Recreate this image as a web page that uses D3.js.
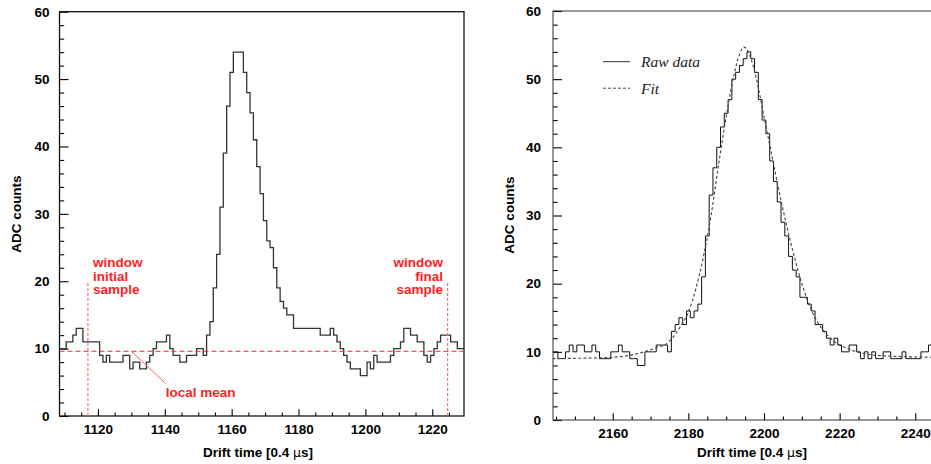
<!DOCTYPE html>
<html>
<head>
<meta charset="utf-8">
<script src="https://cdn.jsdelivr.net/npm/d3@7"></script>
<style>
  body { margin: 0; background: #fff; }
  svg { display: block; font-family: "Liberation Sans", Arial, Helvetica, sans-serif; }
</style>
</head>
<body>
<svg id="chart" width="931" height="464"></svg>
<script>
// ---- Left panel: single pulse with its baseline window ----
const leftFirstBin = 1109;           // centre of the first drift-time bin
const leftCounts = [
  10, 10, 11, 11, 12, 13, 13, 11, 11, 11, 11, 11,   // 1109-1120
   9,  8,  9,  8,  8,  8,  8,  9,  9,  7,  8,  8,   // 1121-1132
   7,  7,  8,  9, 10, 11, 11, 11, 12, 10,  9,  9,   // 1133-1144
   8,  8,  9,  9,  9, 10, 10,  9, 12, 14, 19, 24,   // 1145-1156
  31, 39, 46, 51, 54, 54, 54, 51, 48, 45, 41, 37,   // 1157-1168
  33, 29, 26, 25, 22, 19, 17, 16, 15, 15, 13, 13,   // 1169-1180
  13, 13, 13, 13, 13, 13, 12, 12, 12, 13, 12, 11,   // 1181-1192
  10,  9,  8,  7,  7,  7,  6,  6,  8,  7,  9,  8,   // 1193-1204
   8,  8,  8,  9, 10, 10, 11, 13, 13, 12, 12, 11,   // 1205-1216
  11,  9,  8,  9, 10, 11, 12, 12, 12, 11, 11, 10,   // 1217-1228
  10                                                // 1229
];
const windowInitial = 1117;
const windowFinal = 1224.6;
const windowMarkHeight = 20;
const localMean = 9.6;

// ---- Right panel: raw pulse and its fit ----
const rightFirstBin = 2144;
const rightCounts = [
  10, 10,  9,  9, 10, 11, 10, 11, 11, 10, 10, 11,   // 2144-2155
  10,  9,  9,  9, 10, 10, 11, 10, 10,  9,  9,  8,   // 2156-2167
   8, 10, 10, 10, 11, 11, 11, 10, 13, 14, 15, 14,   // 2168-2179
  16, 15, 16, 17, 21, 27, 33, 37, 40, 43, 45, 47,   // 2180-2191
  50, 51, 52, 53, 54, 53, 51, 47, 44, 42, 38, 35,   // 2192-2203
  32, 29, 27, 24, 22, 21, 18, 18, 17, 16, 14, 14,   // 2204-2215
  13, 12, 11, 12, 11, 10, 10, 11, 11, 10,  9, 10,   // 2216-2227
   9, 10,  9,  9, 10, 10,  9,  9,  9, 10,  9,  9,   // 2228-2239
   9,  9, 10, 10, 11                                // 2240-2244
];
const fitTime = [2144, 2150, 2155, 2160, 2164, 2167, 2170, 2172, 2174, 2176,
                 2178, 2180, 2182, 2184, 2186, 2188, 2190, 2192, 2193.5, 2194.7,
                 2196, 2198, 2200, 2202, 2204, 2206, 2208, 2210, 2212, 2214,
                 2216, 2218, 2220, 2222, 2224, 2226, 2228, 2232, 2236, 2240,
                 2246, 2252];
const fitCounts = [9.0, 9.05, 9.1, 9.2, 9.45, 9.8, 10.3, 10.7, 11.1, 12.2,
                   13.8, 15.8, 19.3, 24.0, 30.0, 37.5, 44.5, 50.5, 53.6, 54.7,
                   53.8, 50.0, 44.5, 39.0, 33.5, 28.5, 24.0, 20.0, 16.8, 14.5,
                   12.9, 11.8, 11.0, 10.5, 10.1, 9.8, 9.6, 9.4, 9.3, 9.25,
                   9.2, 9.2];

const leftTicks = [1120, 1140, 1160, 1180, 1200, 1220];
const rightTicks = [2160, 2180, 2200, 2220, 2240];
const countTicks = [0, 10, 20, 30, 40, 50, 60];

const legendLabels = ["Raw data", "Fit"];
const axisTitleX = "Drift time [0.4 ";
const axisTitleY = "ADC counts";

// ---------------------------------------------------------------
const svg = d3.select("#chart");
const FONT = 13.5;

function binsOf(first, counts) {
  // step points: left edge of each bin, then the right edge of the last one
  const pts = counts.map((c, i) => [first + i - 0.5, c]);
  pts.push([first + counts.length - 0.5, counts[counts.length - 1]]);
  return pts;
}

function drawPanel(cfg) {
  const g = svg.append("g");
  const x = d3.scaleLinear().domain(cfg.xDomain).range(cfg.xRange);
  const y = d3.scaleLinear().domain([0, 60]).range(cfg.yRange);

  const clipId = "clip-" + cfg.id;
  svg.append("clipPath").attr("id", clipId)
    .append("rect")
    .attr("x", cfg.xRange[0]).attr("y", cfg.yRange[1])
    .attr("width", cfg.xRange[1] - cfg.xRange[0])
    .attr("height", cfg.yRange[0] - cfg.yRange[1]);

  // minor and major ticks, pointing into the frame
  const yMinor = d3.range(0, 61, 2).filter(v => v % 10 !== 0);
  g.append("g").attr("transform", `translate(${cfg.xRange[0]},0)`)
    .call(d3.axisLeft(y).tickValues(yMinor).tickSize(-4.7).tickFormat(""))
    .call(a => a.select(".domain").remove());
  g.append("g").attr("class", "ax").attr("transform", `translate(${cfg.xRange[0]},0)`)
    .call(d3.axisLeft(y).tickValues(countTicks).tickSize(-9).tickPadding(cfg.yPad).tickFormat(d3.format("d")))
    .call(a => a.select(".domain").remove());

  const xMinor = d3.range(Math.ceil(cfg.xDomain[0] / 5) * 5, cfg.xDomain[1], 5)
    .filter(v => !cfg.xTicks.includes(v));
  g.append("g").attr("transform", `translate(0,${cfg.yRange[0]})`)
    .call(d3.axisBottom(x).tickValues(xMinor).tickSize(-3.4).tickFormat(""))
    .call(a => a.select(".domain").remove());
  g.append("g").attr("class", "ax").attr("transform", `translate(0,${cfg.yRange[0]})`)
    .call(d3.axisBottom(x).tickValues(cfg.xTicks).tickSize(-6.8).tickPadding(8.2).tickFormat(d3.format("d")))
    .call(a => a.select(".domain").remove());

  g.selectAll(".tick line").attr("stroke", "#000").attr("stroke-width", 1.1);
  g.selectAll(".ax text")
    .attr("fill", "#000").attr("font-size", FONT).attr("font-weight", "bold")
    .attr("font-family", "'Liberation Sans', Arial, sans-serif");

  // frame
  g.append("rect")
    .attr("x", cfg.xRange[0]).attr("y", cfg.yRange[1])
    .attr("width", cfg.xRange[1] - cfg.xRange[0])
    .attr("height", cfg.yRange[0] - cfg.yRange[1])
    .attr("fill", "none").attr("stroke", cfg.frameColor).attr("stroke-width", cfg.frameWidth);

  // axis titles
  const xt = g.append("text")
    .attr("x", cfg.xTitlePos[0]).attr("y", cfg.xTitlePos[1])
    .attr("text-anchor", "middle").attr("font-size", FONT).attr("font-weight", "bold");
  xt.append("tspan").text(axisTitleX);
  xt.append("tspan").attr("font-weight", "normal").attr("font-family", "'DejaVu Sans', sans-serif")
    .attr("font-size", FONT - 1).text("\u03bc");
  xt.append("tspan").text("s]");

  g.append("text")
    .attr("transform", `translate(${cfg.yTitlePos[0]},${cfg.yTitlePos[1]}) rotate(-90)`)
    .attr("text-anchor", "middle").attr("font-size", FONT).attr("font-weight", "bold")
    .text(axisTitleY);

  const plot = g.append("g").attr("clip-path", `url(#${clipId})`);
  return { g, plot, x, y };
}

// ================= left panel =================
const L = drawPanel({
  id: "left",
  xDomain: [1108.5, 1229.5], xRange: [59.5, 464],
  yRange: [416, 11.7], yPad: 10,
  xTicks: leftTicks,
  frameColor: "#111", frameWidth: 1.3,
  xTitlePos: [258, 457], yTitlePos: [20.5, 214]
});

const stepLineL = d3.line().x(d => L.x(d[0])).y(d => L.y(d[1])).curve(d3.curveStepAfter);
L.plot.append("path")
  .datum(binsOf(leftFirstBin, leftCounts))
  .attr("d", stepLineL)
  .attr("fill", "none").attr("stroke", "#333").attr("stroke-width", 1.3);

// local mean level
L.plot.append("line")
  .attr("x1", L.x(1108.5)).attr("x2", L.x(1229.5))
  .attr("y1", L.y(localMean)).attr("y2", L.y(localMean))
  .attr("stroke", "#ff2a2a").attr("stroke-width", 1).attr("stroke-dasharray", "5,3");

// window limits
[windowInitial, windowFinal].forEach(t => {
  L.plot.append("line")
    .attr("x1", L.x(t)).attr("x2", L.x(t))
    .attr("y1", L.y(0)).attr("y2", L.y(windowMarkHeight))
    .attr("stroke", "#ff7070").attr("stroke-width", 1.2).attr("stroke-dasharray", "3,2");
});

const red = "#ff1e1e";
function redLines(lines, x0, yBase, anchor) {
  const t = L.g.append("text")
    .attr("fill", red).attr("font-size", FONT).attr("font-weight", "bold")
    .attr("text-anchor", anchor);
  lines.forEach((s, i) => t.append("tspan").attr("x", x0).attr("y", yBase + i * 13.6).text(s));
}
redLines(["window", "initial", "sample"], L.x(windowInitial) + 5, 267, "start");
redLines(["window", "final", "sample"], L.x(windowFinal) - 4.5, 267, "end");

// pointer to the local mean
L.g.append("line")
  .attr("x1", L.x(1130)).attr("y1", L.y(localMean))
  .attr("x2", L.x(1140.3)).attr("y2", L.y(4.8))
  .attr("stroke", "#ff5a5a").attr("stroke-width", 1);
L.g.append("text")
  .attr("x", L.x(1140.3)).attr("y", 396.5)
  .attr("fill", red).attr("font-size", FONT).attr("font-weight", "bold")
  .text("local mean");

// ================= right panel =================
const R = drawPanel({
  id: "right",
  xDomain: [2144.2, 2251.3], xRange: [553, 958],
  yRange: [420, 11], yPad: 12,
  xTicks: rightTicks,
  frameColor: "#333", frameWidth: 1,
  xTitlePos: [752, 456.5], yTitlePos: [514, 215]
});

const stepLineR = d3.line().x(d => R.x(d[0])).y(d => R.y(d[1])).curve(d3.curveStepAfter);
R.plot.append("path")
  .datum(binsOf(rightFirstBin, rightCounts))
  .attr("d", stepLineR)
  .attr("fill", "none").attr("stroke", "#111").attr("stroke-width", 1);

const fitLine = d3.line().x(d => R.x(d[0])).y(d => R.y(d[1])).curve(d3.curveMonotoneX);
R.plot.append("path")
  .datum(fitTime.map((t, i) => [t, fitCounts[i]]))
  .attr("d", fitLine)
  .attr("fill", "none").attr("stroke", "#444").attr("stroke-width", 1.1)
  .attr("stroke-dasharray", "3,2.2");

// legend
const legend = R.g.append("g");
legendLabels.forEach((lab, i) => {
  const yy = 61.7 + i * 26.5;
  legend.append("line")
    .attr("x1", 603).attr("x2", 630).attr("y1", yy).attr("y2", yy)
    .attr("stroke", i === 0 ? "#333" : "#444").attr("stroke-width", 1)
    .attr("stroke-dasharray", i === 0 ? null : "3,2");
  legend.append("text")
    .attr("x", 641).attr("y", yy + 5.5)
    .attr("font-family", "'Liberation Serif', 'Times New Roman', serif")
    .attr("font-style", "italic").attr("font-size", 15.5).attr("fill", "#222")
    .text(lab);
});
</script>
</body>
</html>
